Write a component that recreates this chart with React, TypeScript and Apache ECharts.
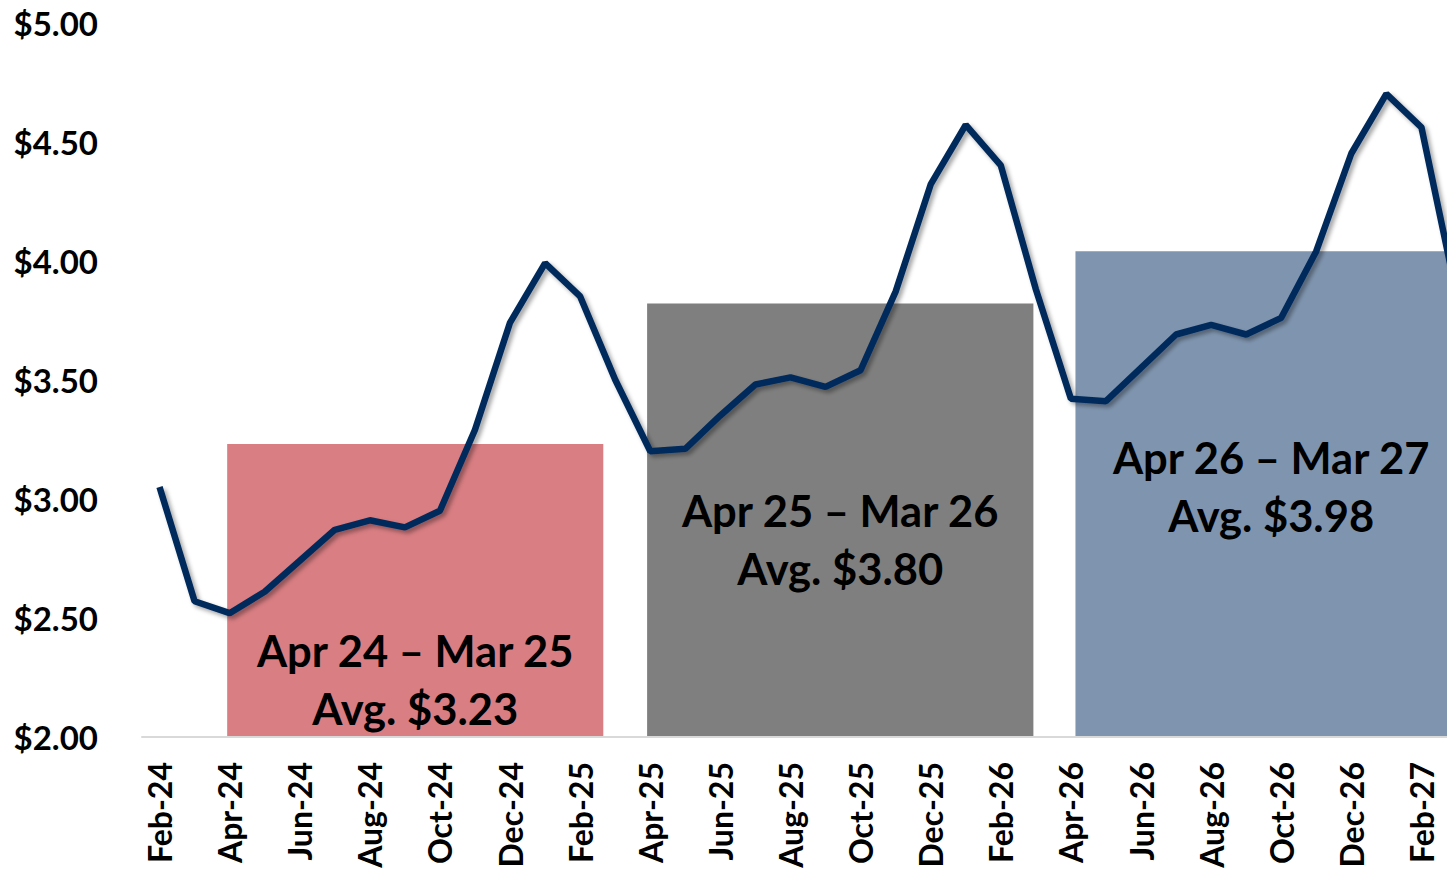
import React, { useEffect, useRef } from "react";
import * as echarts from "echarts";

const months = [
  "Feb-24","Mar-24","Apr-24","May-24","Jun-24","Jul-24","Aug-24","Sep-24","Oct-24","Nov-24","Dec-24","Jan-25",
  "Feb-25","Mar-25","Apr-25","May-25","Jun-25","Jul-25","Aug-25","Sep-25","Oct-25","Nov-25","Dec-25","Jan-26",
  "Feb-26","Mar-26","Apr-26","May-26","Jun-26","Jul-26","Aug-26","Sep-26","Oct-26","Nov-26","Dec-26","Jan-27",
  "Feb-27","Mar-27",
];

const prices = [
  3.05, 2.57, 2.52, 2.61, 2.74, 2.87, 2.91, 2.88, 2.95, 3.29, 3.74, 3.99,
  3.85, 3.50, 3.20, 3.21, 3.35, 3.48, 3.51, 3.47, 3.54, 3.87, 4.32, 4.57,
  4.40, 3.88, 3.42, 3.41, 3.55, 3.69, 3.73, 3.69, 3.76, 4.04, 4.45, 4.70,
  4.56, 3.86,
];

// average boxes: start / end positions (in month index units) and heights
const boxStart = [1.93, 13.91, 26.13];
const boxEnd = [12.66, 24.93, 37.3];
const boxValue = [3.23, 3.82, 4.04];
const boxLabels = ["Apr 24 – Mar 25\nAvg. $3.23", "Apr 25 – Mar 26\nAvg. $3.80", "Apr 26 – Mar 27\nAvg. $3.98"];
const boxColors = ["#D97E83", "#7F7F7F", "#7F95AF"];

const yTicks = { min: 2, max: 5, interval: 0.5 };

export default function App() {
  const ref = useRef<HTMLDivElement>(null);
  useEffect(() => {
    if (!ref.current) return;
    const chart = echarts.init(ref.current, null, { renderer: "svg" });
    const font = "Lato, 'Open Sans', sans-serif";
    chart.setOption({
      animation: false,
      backgroundColor: "#ffffff",
      grid: { left: 142, right: 0, top: 22.5, bottom: 134 },
      xAxis: [
        {
          type: "category",
          data: months,
          boundaryGap: true,
          axisLine: { show: true, lineStyle: { color: "#D9D9D9", width: 2 } },
          axisTick: { show: false },
          axisLabel: {
            interval: 1,
            rotate: 90,
            margin: 25,
            fontFamily: font,
            fontWeight: "bold",
            fontSize: 32,
            color: "#000000",
          },
          z: 5,
        },
        {
          type: "value",
          show: false,
          min: -0.5,
          max: months.length - 0.5,
        },
      ],
      yAxis: {
        type: "value",
        min: yTicks.min,
        max: yTicks.max,
        interval: yTicks.interval,
        axisLine: { show: false },
        axisTick: { show: false },
        splitLine: { show: false },
        axisLabel: {
          margin: 44,
          fontFamily: font,
          fontWeight: "bold",
          fontSize: 33,
          color: "#000000",
          formatter: (v: number) => "$" + v.toFixed(2),
        },
      },
      series: [
        {
          type: "custom",
          xAxisIndex: 1,
          z: 1,
          data: boxStart.map((s, i) => [s, boxEnd[i], boxValue[i]]),
          renderItem: (params: any, api: any) => {
            const i = params.dataIndex;
            const p0 = api.coord([api.value(0), api.value(2)]);
            const p1 = api.coord([api.value(1), yTicks.min]);
            const w = p1[0] - p0[0];
            const h = p1[1] - p0[1];
            return {
              type: "group",
              children: [
                {
                  type: "rect",
                  shape: { x: p0[0], y: p0[1], width: w, height: h },
                  style: { fill: boxColors[i] },
                },
                {
                  type: "text",
                  style: {
                    text: boxLabels[i],
                    x: p0[0] + w / 2,
                    y: p0[1] + 235,
                    align: "center",
                    verticalAlign: "middle",
                    fontFamily: font,
                    fontWeight: "bold",
                    fontSize: 43.5,
                    lineHeight: 58,
                    fill: "#000000",
                  },
                },
              ],
            };
          },
        },
        {
          type: "line",
          data: prices,
          z: 3,
          symbol: "none",
          lineStyle: {
            color: "#002B5C",
            width: 6.5,
            shadowColor: "rgba(0,0,0,0.35)",
            shadowBlur: 4,
            shadowOffsetX: 3,
            shadowOffsetY: 3,
          },
        },
      ],
    });
    return () => chart.dispose();
  }, []);
  return (
    <div style={{ position: "fixed", left: 0, top: 0, width: 1447, height: 871, overflow: "hidden", background: "#fff" }}>
      <div ref={ref} style={{ width: 1474, height: 871 }} />
    </div>
  );
}
